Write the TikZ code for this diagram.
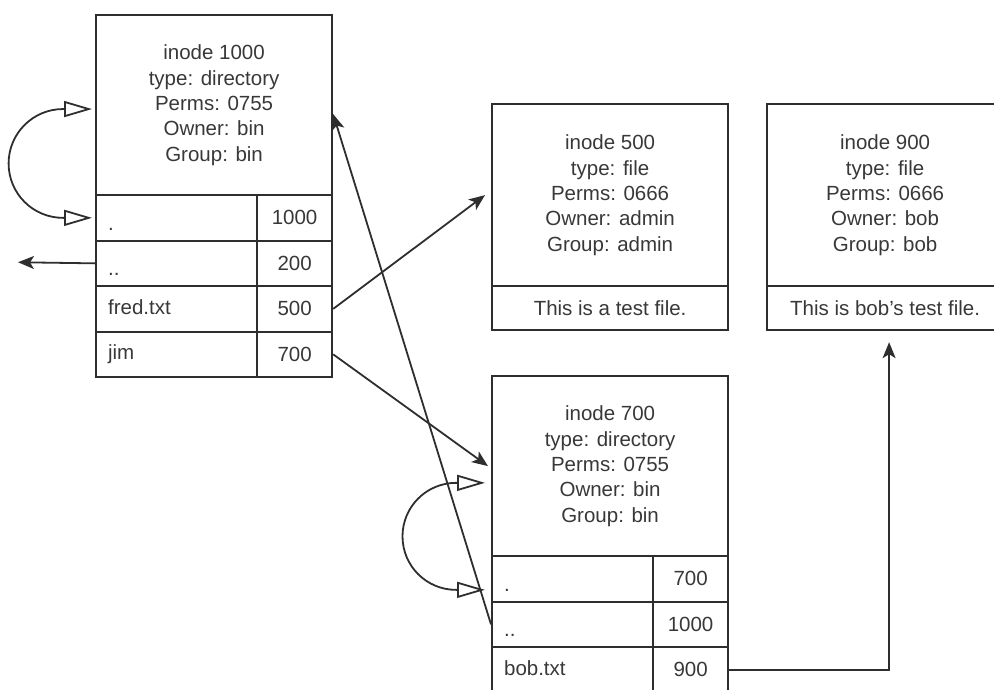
\documentclass[tikz,border=0pt]{standalone}
\usepackage{fontspec}
\setmainfont{Liberation Sans}
\usetikzlibrary{arrows.meta,positioning}
\definecolor{inkline}{HTML}{2E2E2E}
\definecolor{inktext}{HTML}{383838}

\begin{document}
\begin{tikzpicture}[
    x=1pt, y=-1pt,
    every node/.style={font=\fontsize{20.5}{25.3}\selectfont, text=inktext},
    hdr/.style={draw=inkline, line width=2.2pt, anchor=north west, minimum width=236pt,
                minimum height=180pt, inner sep=0pt, align=center},
    namecell/.style={draw=inkline, line width=2.2pt, anchor=north west, minimum height=45.5pt,
                text width=137pt, inner xsep=12pt, inner ysep=0pt, align=left,
                text height=15pt, text depth=4pt},
    numcell/.style={draw=inkline, line width=2.2pt, anchor=north west, minimum width=75pt,
                minimum height=45.5pt, inner sep=0pt},
    textcell/.style={draw=inkline, line width=2.2pt, anchor=north west, minimum width=236pt,
                minimum height=44pt, inner sep=0pt},
    arr/.style={draw=inkline, line width=1.8pt, -{Stealth[length=16pt, width=13pt, inset=4pt]}},
    selfref/.style={draw=inkline, line width=1.8pt,
                {Triangle[open, length=28pt, width=16pt]}-{Triangle[open, length=28pt, width=16pt]}}
]
    \useasboundingbox (0,0) rectangle (994,689);

    % inode 1000 (directory)
    \node[hdr] (h1000) at (95,14) {inode 1000\\type: directory\\Perms: 0755\\Owner: bin\\Group: bin};
    \node[namecell] (r1l1) at (95,194)   {\raisebox{-7pt}{.}};
    \node[numcell]  (r1n1) at (256,194)  {1000};
    \node[namecell] (r1l2) at (95,239.5) {\raisebox{-7pt}{..}};
    \node[numcell]  (r1n2) at (256,239.5) {200};
    \node[namecell] (r1l3) at (95,285)   {fred.txt};
    \node[numcell]  (r1n3) at (256,285)  {500};
    \node[namecell] (r1l4) at (95,330.5) {jim};
    \node[numcell]  (r1n4) at (256,330.5) {700};

    % inode 500 (file)
    \node[hdr, minimum height=182pt] (h500) at (491,103) {inode 500\\type: file\\Perms: 0666\\Owner: admin\\Group: admin};
    \node[textcell] (b500) at (491,285) {This is a test file.};

    % inode 900 (file)
    \node[hdr, minimum height=182pt] (h900) at (766,103) {inode 900\\type: file\\Perms: 0666\\Owner: bob\\Group: bob};
    \node[textcell] (b900) at (766,285) {This is bob's test file.};

    % inode 700 (directory)
    \node[hdr] (h700) at (491,375) {inode 700\\type: directory\\Perms: 0755\\Owner: bin\\Group: bin};
    \node[namecell] (s2l1) at (491,555)   {\raisebox{-7pt}{.}};
    \node[numcell]  (s2n1) at (652,555)   {700};
    \node[namecell] (s2l2) at (491,600.5) {\raisebox{-7pt}{..}};
    \node[numcell]  (s2n2) at (652,600.5) {1000};
    \node[namecell] (s2l3) at (491,646)   {bob.txt};
    \node[numcell]  (s2n3) at (652,646)   {900};

    % links
    \coordinate (parent) at (18,262.25);
    \draw[arr] (r1l2.west) -- (parent);
    \draw[arr] (r1n3.east) -- ([xshift=-6pt]h500.west);
    \draw[arr] (r1n4.east) -- ([xshift=-3pt]h700.west);
    \draw[arr] (s2l2.west) -- ([yshift=-9pt]h1000.east);
    \draw[arr] (s2n3.east) -| ([xshift=4pt,yshift=-11pt]b900.south);

    % self references
    \draw[selfref] ([xshift=-3pt]r1l1.west) -- ++(-29,0)
        arc[start angle=270, end angle=90, radius=54.4pt] -- ++(29,0);
    \draw[selfref] ([xshift=-6pt,yshift=-11pt]s2l1.west) -- ++(-29,0)
        arc[start angle=270, end angle=90, radius=53.5pt] -- ++(29,0);
\end{tikzpicture}
\end{document}
